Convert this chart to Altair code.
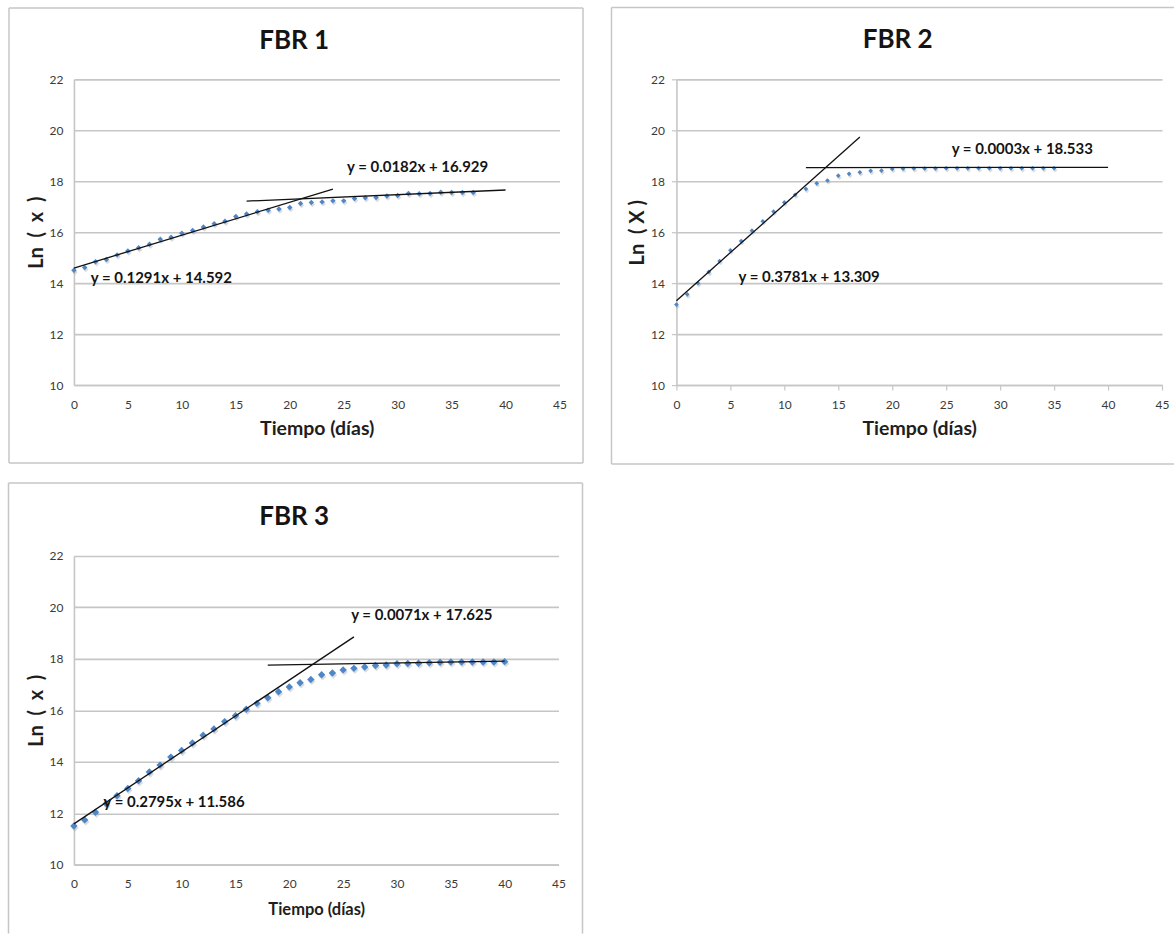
import altair as alt
import pandas as pd

# Ln(x) of biomass per day, one series per reactor
dias_1 = list(range(0, 38))
ln_1 = [14.51, 14.61, 14.84, 14.93, 15.11, 15.26, 15.39, 15.53, 15.72, 15.80,
        15.96, 16.07, 16.20, 16.33, 16.43, 16.62, 16.71, 16.80, 16.86, 16.91,
        16.97, 17.13, 17.17, 17.19, 17.23, 17.23, 17.32, 17.35, 17.36, 17.42,
        17.44, 17.52, 17.51, 17.52, 17.57, 17.56, 17.56, 17.56]

dias_2 = list(range(0, 36))
ln_2 = [13.16, 13.56, 14.00, 14.44, 14.87, 15.29, 15.65, 16.06, 16.43, 16.81,
        17.17, 17.47, 17.70, 17.92, 18.03, 18.22, 18.29, 18.35, 18.41, 18.42,
        18.48, 18.49, 18.50, 18.50, 18.50, 18.51, 18.51, 18.51, 18.51, 18.51,
        18.51, 18.51, 18.51, 18.51, 18.51, 18.51]

dias_3 = list(range(0, 41))
ln_3 = [11.50, 11.74, 12.04, 12.37, 12.68, 12.96, 13.26, 13.60, 13.87, 14.18,
        14.44, 14.73, 15.03, 15.27, 15.56, 15.79, 16.04, 16.27, 16.49, 16.72,
        16.91, 17.07, 17.20, 17.38, 17.45, 17.57, 17.63, 17.68, 17.74, 17.76,
        17.81, 17.82, 17.83, 17.85, 17.87, 17.88, 17.88, 17.88, 17.88, 17.88,
        17.89]

# linear fits: (slope, intercept, x start, x end)
ajustes_1 = [(0.1291, 14.592, 0, 24), (0.0182, 16.929, 16, 40)]
ajustes_2 = [(0.3781, 13.309, 0, 17), (0.0003, 18.533, 12, 40)]
ajustes_3 = [(0.2795, 11.586, 0, 26), (0.0071, 17.625, 18, 40)]

# equation label anchors (data units): (x, y) for the fits above
etiquetas_1 = [(8.1, 14.21), (31.85, 18.56)]
etiquetas_2 = [(12.3, 14.23), (32.05, 19.25)]
etiquetas_3 = [(9.3, 12.42), (32.3, 19.70)]

x_ticks = [0, 5, 10, 15, 20, 25, 30, 35, 40, 45]
y_ticks = [10, 12, 14, 16, 18, 20, 22]

AZUL = "#4f86c6"
GRIS = "#c6c6c6"
FONT = "Lato"
NB = "\u00a0"  # non-breaking space keeps the wide axis-title spacing


def ecuacion(m, b):
    return f"y = {m:.4f}x + {b:.3f}"


def panel(dias, ln, ajustes, etiquetas, titulo, ytitulo, w, h, marco,
          con_ticks, tam_punto, xtit_size, xtit_pad, titulo_pos):
    xs = alt.Scale(domain=[0, 45], nice=False, zero=False)
    ys = alt.Scale(domain=[10, 22], nice=False, zero=False)
    tick_kw = dict(ticks=True, tickSize=5, tickColor=GRIS, tickWidth=1.2) if con_ticks \
        else dict(ticks=False, tickSize=0)
    xaxis = alt.Axis(values=x_ticks, grid=False, domainColor=GRIS, domainWidth=1.6,
                     labelFont=FONT, labelFontSize=12, labelColor="#3a3a3a",
                     labelPadding=14 if not con_ticks else 9, labelFlush=False,
                     labelOverlap=False, title="Tiempo (días)", titleFont=FONT,
                     titleFontWeight="bold", titleFontSize=xtit_size,
                     titleColor="#1e1e1e", titlePadding=xtit_pad, **tick_kw)
    yaxis = alt.Axis(values=y_ticks, grid=True, gridColor=GRIS, gridWidth=1.6,
                     domainColor=GRIS, domainWidth=1.6, labelFont=FONT,
                     labelFontSize=12, labelColor="#3a3a3a",
                     labelPadding=11 if not con_ticks else 7, labelOverlap=False,
                     title=ytitulo, titleFont=FONT, titleFontWeight="bold",
                     titleFontSize=20, titleColor="#1e1e1e", titlePadding=3,
                     **tick_kw)

    pts = pd.DataFrame({"dia": dias, "ln": ln})
    sombra = alt.Chart(pts).mark_point(
        shape="diamond", filled=True, size=tam_punto, color="#9a9a9a",
        opacity=0.35, xOffset=1, yOffset=2
    ).encode(x=alt.X("dia:Q", scale=xs, axis=xaxis),
             y=alt.Y("ln:Q", scale=ys, axis=yaxis))
    puntos = alt.Chart(pts).mark_point(
        shape="diamond", filled=True, size=tam_punto, color=AZUL, opacity=1
    ).encode(x=alt.X("dia:Q", scale=xs), y=alt.Y("ln:Q", scale=ys))

    filas = []
    for i, (m, b, x0, x1) in enumerate(ajustes):
        filas.append({"seg": i, "dia": x0, "ln": m * x0 + b})
        filas.append({"seg": i, "dia": x1, "ln": m * x1 + b})
    lineas = alt.Chart(pd.DataFrame(filas)).mark_line(
        color="#111111", strokeWidth=1.3
    ).encode(x=alt.X("dia:Q", scale=xs), y=alt.Y("ln:Q", scale=ys), detail="seg:N")

    eq = pd.DataFrame({
        "dia": [e[0] for e in etiquetas],
        "ln": [e[1] for e in etiquetas],
        "txt": [ecuacion(m, b) for (m, b, _, _) in ajustes],
    })
    textos = alt.Chart(eq).mark_text(
        font=FONT, fontWeight="bold", fontSize=15, color="#141414",
        align="center", baseline="middle"
    ).encode(x=alt.X("dia:Q", scale=xs), y=alt.Y("ln:Q", scale=ys), text="txt:N")

    uno = pd.DataFrame({"k": [0]})
    L, T, R, B, lados = marco
    capas = [sombra, puntos, lineas, textos]
    borde = dict(color=GRIS, strokeWidth=1.5)
    if "left" in lados:
        capas.append(alt.Chart(uno).mark_rule(**borde).encode(
            x=alt.value(L), y=alt.value(T), y2=alt.value(B)))
    if "right" in lados:
        capas.append(alt.Chart(uno).mark_rule(**borde).encode(
            x=alt.value(R), y=alt.value(T), y2=alt.value(B)))
    if "top" in lados:
        capas.append(alt.Chart(uno).mark_rule(**borde).encode(
            x=alt.value(L), x2=alt.value(R), y=alt.value(T)))
    if "bottom" in lados:
        capas.append(alt.Chart(uno).mark_rule(**borde).encode(
            x=alt.value(L), x2=alt.value(R), y=alt.value(B)))

    tx, ty = titulo_pos
    capas.append(alt.Chart(pd.DataFrame({"t": [titulo]})).mark_text(
        font=FONT, fontWeight="bold", fontSize=26, color="#141414",
        align="center", baseline="middle"
    ).encode(x=alt.value(tx), y=alt.value(ty), text="t:N"))

    return alt.layer(*capas).properties(width=w, height=h)


y_min = f"Ln{NB}{NB}({NB}{NB}x{NB}{NB})"
y_may = f"Ln{NB}{NB}({NB}X{NB})"

p1 = panel(dias_1, ln_1, ajustes_1, etiquetas_1, "FBR 1", y_min, 486, 306,
           (-65, -71.5, 509.5, 384, ("left", "right", "top", "bottom")),
           False, 30, 19.5, 9, (220.5, -38.5))
p2 = panel(dias_2, ln_2, ajustes_2, etiquetas_2, "FBR 2", y_may, 486, 306,
           (-65, -72, 498, 385, ("left", "top", "bottom")),
           True, 22, 19.5, 9, (221.5, -39))
p3 = panel(dias_3, ln_3, ajustes_3, etiquetas_3, "FBR 3", y_min, 485, 309,
           (-65.5, -73, 509, 378, ("left", "right", "top")),
           False, 55, 16.5, 12, (220.5, -39))

chart = alt.concat(
    p1, p2, p3, columns=2, bounds="flush",
    spacing=alt.RowColnumber(row=171, column=117)
).properties(
    padding={"left": 7, "top": 5, "right": 0, "bottom": 0}
).configure_view(stroke="transparent")

chart.save("out.html", embed_options={"renderer": "svg", "actions": False})
